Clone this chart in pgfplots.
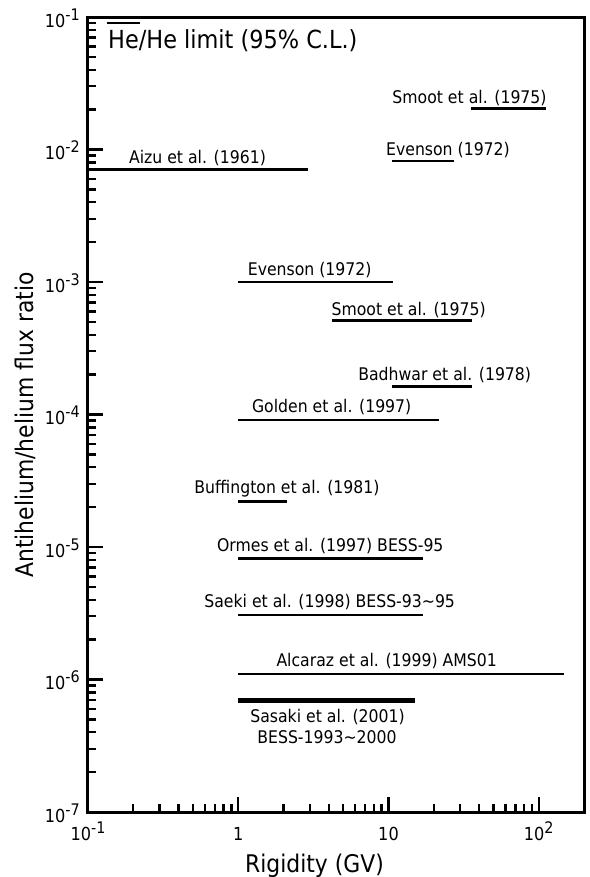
\documentclass[border=0pt]{standalone}
\usepackage{fontspec}
\setmainfont{DejaVu Sans}[FakeStretch=0.9]
\usepackage{pgfplots}
\pgfplotsset{compat=1.18}
\newcommand{\tp}[1]{10\raisebox{6.7pt}{\fontsize{16}{17}\selectfont #1}}
\newcommand{\ovl}[1]{\leavevmode\setbox0\hbox{#1}\rlap{\kern-1.5pt\rule[\dimexpr\ht0+6pt\relax]{\dimexpr\wd0+3pt\relax}{2pt}}\box0}
\begin{document}
\begin{tikzpicture}
\useasboundingbox (-88bp,-65bp) rectangle (502bp,812bp);
\begin{axis}[
  at={(0,0)}, anchor=south west,
  scale only axis, width=496bp, height=795bp,
  xmode=log, ymode=log,
  xmin=0.1, xmax=200, ymin=1e-7, ymax=1e-1,
  xtick={0.1,1,10,100}, xticklabels={\tp{-1},1,10,\tp{2}},
  ytick={1e-7,1e-6,1e-5,1e-4,1e-3,1e-2,1e-1},
  yticklabels={\tp{-7},\tp{-6},\tp{-5},\tp{-4},\tp{-3},\tp{-2},\tp{-1}},
  xtick pos=bottom, ytick pos=left, tick align=inside,
  major tick length=15bp, minor tick length=8bp,
  every tick/.style={black, line width=2.4bp},
  axis line style={line width=3bp},
  ticklabel style={font=\fontsize{18}{20}\selectfont},
  xticklabel style={anchor=base, inner sep=0pt, yshift=-28bp},
  yticklabel style={anchor=east, inner sep=0pt, xshift=-8bp, yshift=-1bp},
  clip=false,
]
% Smoot et al. (1975) upper
\addplot[black, line width=2.7bp] coordinates {(35.2,0.0205) (111,0.0205)};
% Evenson (1972) upper
\addplot[black, line width=2.7bp] coordinates {(10.5,8.2e-3) (27.3,8.2e-3)};
% Aizu et al. (1961)
\addplot[black, line width=2.7bp] coordinates {(0.1,7.1e-3) (2.91,7.1e-3)};
% Evenson (1972) lower
\addplot[black, line width=2.7bp] coordinates {(1.0,1.0e-3) (10.7,1.0e-3)};
% Smoot et al. (1975) lower
\addplot[black, line width=2.7bp] coordinates {(4.19,5.1e-4) (36.1,5.1e-4)};
% Badhwar et al. (1978)
\addplot[black, line width=2.7bp] coordinates {(10.5,1.62e-4) (36.1,1.62e-4)};
% Golden et al. (1997)
\addplot[black, line width=2.7bp] coordinates {(1.0,9.1e-5) (21.7,9.1e-5)};
% Buffington et al. (1981)
\addplot[black, line width=2.7bp] coordinates {(1.0,2.2e-5) (2.1,2.2e-5)};
% Ormes et al. (1997)
\addplot[black, line width=2.7bp] coordinates {(1.0,8.2e-6) (17.0,8.2e-6)};
% Saeki et al. (1998)
\addplot[black, line width=2.7bp] coordinates {(1.0,3.07e-6) (17.0,3.07e-6)};
% Alcaraz et al. (1999)
\addplot[black, line width=2.7bp] coordinates {(1.0,1.1e-6) (147,1.1e-6)};
% Sasaki et al. (2001)
\addplot[black, line width=5bp] coordinates {(1.0,7.0e-7) (15.0,7.0e-7)};
\end{axis}
\begin{scope}[every node/.style={inner sep=0pt, font=\fontsize{17.5}{20}\selectfont}]
\node at (381.5bp,713.5bp) {Smoot et al. (1975)};
\node at (360bp,662bp) {Evenson (1972)};
\node at (109.5bp,654bp) {Aizu et al. (1961)};
\node at (221.7bp,542bp) {Evenson (1972)};
\node at (320.7bp,502.3bp) {Smoot et al. (1975)};
\node at (356.7bp,437.3bp) {Badhwar et al. (1978)};
\node at (243.7bp,404.5bp) {Golden et al. (1997)};
\node at (199bp,323.2bp) {Buffington et al. (1981)};
\node at (242.3bp,266.2bp) {Ormes et al. (1997) BESS-95};
\node at (241.7bp,210bp) {Saeki et al. (1998) BESS-93\textasciitilde 95};
\node at (298.7bp,150.7bp) {Alcaraz et al. (1999) AMS01};
\node at (239.5bp,95bp) {Sasaki et al. (2001)};
\node at (239bp,74.5bp) {BESS-1993\textasciitilde 2000};
\end{scope}
\node[inner sep=0pt, anchor=base west, font=\fontsize{25}{28}\selectfont] at (20bp,763.7bp) {\ovl{He}/He limit (95\% C.L.)};
\node[inner sep=0pt, font=\fontsize{24.4}{28}\selectfont] at (226.5bp,-54bp) {Rigidity (GV)};
\node[inner sep=0pt, anchor=base, rotate=90, font=\fontsize{24.4}{28}\selectfont] at (-54.7bp,387bp) {Antihelium/helium flux ratio};
\end{tikzpicture}
\end{document}
